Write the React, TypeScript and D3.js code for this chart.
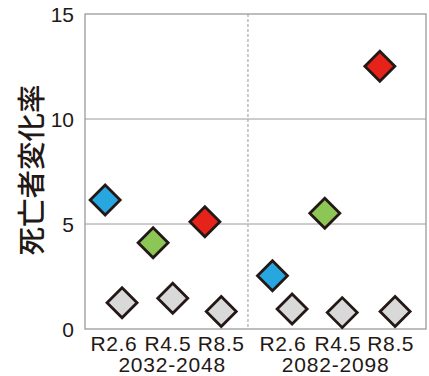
import React from "react";
import * as d3 from "d3";

const categories = ["R2.6", "R4.5", "R8.5", "R2.6", "R4.5", "R8.5"];
const periods = ["2032-2048", "2082-2098"];
const categoryPos = [0.53, 1.52, 2.5, 3.63, 4.64, 5.61];
const periodPos = [1.6, 4.6];
const separatorPos = 2.99;
const colorValues = [6.14, 4.11, 5.11, 2.54, 5.51, 12.51];
const colorPos = [0.37, 1.25, 2.2, 3.44, 4.4, 5.41];
const colorFills = ["#27a6df", "#8cc655", "#e5231b", "#27a6df", "#8cc655", "#e5231b"];
const grayValues = [1.25, 1.46, 0.83, 0.95, 0.78, 0.83];
const grayPos = [0.68, 1.61, 2.5, 3.8, 4.72, 5.69];
const yTicks = [0, 5, 10, 15];
const yLabel = "死亡者変化率";

const W = 429;
const H = 376;
const L = 85, R = 426, T = 14, B = 329;

export default function App() {
  const x = d3.scaleLinear().domain([0, 6.257]).range([L, R]);
  const y = d3.scaleLinear().domain([0, 15]).range([B, T]);
  const r = 15;
  const diamond = (cx: number, cy: number) =>
    `M${cx},${cy - r}L${cx + r},${cy}L${cx},${cy + r}L${cx - r},${cy}Z`;
  const textColor = "#231815";
  const font = "'Liberation Sans', Arial, sans-serif";
  return (
    <svg width={W} height={H} style={{ position: "absolute", left: 0, top: 0, background: "#fff" }}>
      {yTicks.filter((t) => t > 0 && t < 15).map((t) => (
        <line key={"g" + t} x1={L} x2={R} y1={y(t)} y2={y(t)} stroke="#9a9a9a" strokeWidth={1} />
      ))}
      <line x1={x(separatorPos)} x2={x(separatorPos)} y1={T} y2={B} stroke="#b0b0b0" strokeWidth={1.3} strokeDasharray="3,2" />
      <rect x={L} y={T} width={R - L} height={B - T} fill="none" stroke="#9a9a9a" strokeWidth={1.3} />
      {yTicks.map((t) => (
        <text key={"t" + t} x={74} y={y(t)} dy="0.36em" textAnchor="end" fontSize={21} fontFamily={font} fill={textColor}>
          {t}
        </text>
      ))}
      {categories.map((c, i) => (
        <text key={"c" + i} x={x(categoryPos[i])} y={351} textAnchor="middle" fontSize={21} letterSpacing={0.6} fontFamily={font} fill={textColor}>
          {c}
        </text>
      ))}
      {periods.map((p, i) => (
        <text key={"p" + i} x={x(periodPos[i])} y={372} textAnchor="middle" fontSize={21} letterSpacing={0.8} fontFamily={font} fill={textColor}>
          {p}
        </text>
      ))}
      <text
        transform={`translate(32,${(83 + 257) / 2}) rotate(-90)`}
        textAnchor="middle"
        dy="0.35em"
        fontSize={28.5}
        fontWeight={500}
        fontFamily="'Noto Sans CJK JP', sans-serif"
        fill={textColor}
      >
        {yLabel}
      </text>
      {grayValues.map((v, i) => (
        <path key={"gr" + i} d={diamond(x(grayPos[i]), y(v))} fill="#d9d9d9" stroke={textColor} strokeWidth={2.8} strokeLinejoin="miter" />
      ))}
      {colorValues.map((v, i) => (
        <path key={"co" + i} d={diamond(x(colorPos[i]), y(v))} fill={colorFills[i]} stroke={textColor} strokeWidth={2.8} strokeLinejoin="miter" />
      ))}
    </svg>
  );
}
